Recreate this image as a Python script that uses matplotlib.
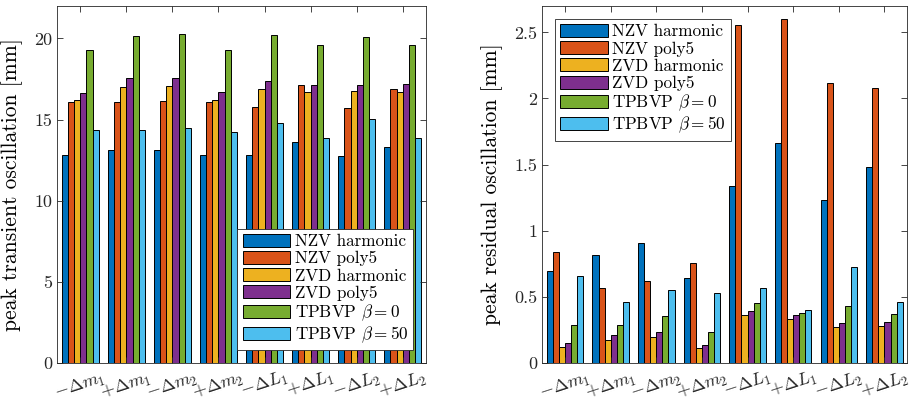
import numpy as np
import matplotlib
matplotlib.use("Agg")
import matplotlib.pyplot as plt
from matplotlib.ticker import FuncFormatter

plt.rcParams["font.family"] = ["cmr10", "DejaVu Serif"]
plt.rcParams["mathtext.fontset"] = "cm"
plt.rcParams["axes.formatter.use_mathtext"] = True
plt.rcParams["axes.unicode_minus"] = False

cases = [r"$-\Delta m_1$", r"$+\Delta m_1$", r"$-\Delta m_2$", r"$+\Delta m_2$",
         r"$-\Delta L_1$", r"$+\Delta L_1$", r"$-\Delta L_2$", r"$+\Delta L_2$"]
methods = ["NZV harmonic", "NZV poly5", "ZVD harmonic", "ZVD poly5",
           r"TPBVP $\beta = 0$", r"TPBVP $\beta = 50$"]
colors = ["#0072BD", "#D95319", "#EDB120", "#7E2F8E", "#77AC30", "#4DBEEE"]

# peak transient oscillation [mm], one list per method
transient_nzv_harm = [12.80, 13.11, 13.15, 12.80, 12.80, 13.61, 12.72, 13.32]
transient_nzv_poly = [16.09, 16.09, 16.13, 16.05, 15.76, 17.14, 15.68, 16.90]
transient_zvd_harm = [16.21, 17.02, 17.08, 16.21, 16.91, 16.67, 16.75, 16.69]
transient_zvd_poly = [16.65, 17.53, 17.57, 16.69, 17.35, 17.10, 17.10, 17.16]
transient_tp_b0 = [19.31, 20.18, 20.28, 19.31, 20.20, 19.60, 20.07, 19.62]
transient_tp_b50 = [14.35, 14.37, 14.46, 14.25, 14.81, 13.86, 15.06, 13.84]

# peak residual oscillation [mm]
residual_nzv_harm = [0.694, 0.815, 0.906, 0.641, 1.334, 1.663, 1.230, 1.478]
residual_nzv_poly = [0.835, 0.565, 0.618, 0.757, 2.557, 2.600, 2.116, 2.076]
residual_zvd_harm = [0.119, 0.172, 0.195, 0.109, 0.362, 0.329, 0.268, 0.278]
residual_zvd_poly = [0.147, 0.208, 0.233, 0.137, 0.390, 0.359, 0.299, 0.309]
residual_tp_b0 = [0.284, 0.289, 0.352, 0.233, 0.451, 0.375, 0.428, 0.367]
residual_tp_b50 = [0.653, 0.456, 0.549, 0.529, 0.562, 0.400, 0.724, 0.461]

transient = [transient_nzv_harm, transient_nzv_poly, transient_zvd_harm,
             transient_zvd_poly, transient_tp_b0, transient_tp_b50]
residual = [residual_nzv_harm, residual_nzv_poly, residual_zvd_harm,
            residual_zvd_poly, residual_tp_b0, residual_tp_b50]

fig = plt.figure(figsize=(9.14, 4.04), dpi=100)
ax1 = fig.add_axes([0.0627, 0.1022, 0.4031, 0.8829])
ax2 = fig.add_axes([0.5933, 0.1022, 0.3993, 0.8829])

x = np.arange(1, len(cases) + 1)
n = len(methods)
w = 0.8 / n


def draw(ax, data, ylabel, ylim, yticks):
    for i, (vals, name, c) in enumerate(zip(data, methods, colors)):
        ax.bar(x - 0.4 + w * (i + 0.5), vals, width=w, color=c,
               edgecolor="black", linewidth=0.7, label=name)
    ax.set_xlim(0.5, 8.5)
    ax.set_ylim(*ylim)
    ax.set_yticks(yticks)
    ax.yaxis.set_major_formatter(FuncFormatter(lambda v, p: "%g" % v))
    ax.set_xticks(x)
    ax.set_xticklabels(cases, rotation=18, ha="center", fontsize=16)
    ax.tick_params(direction="in", top=True, right=True, length=4,
                   width=0.6, labelsize=13, colors="#262626")
    ax.tick_params(axis="x", pad=4)
    for s in ax.spines.values():
        s.set_linewidth(0.6)
        s.set_color("#262626")
    ax.set_ylabel(ylabel, fontsize=15.5, labelpad=8)


draw(ax1, transient, "peak transient oscillation [mm]", (0, 22), [0, 5, 10, 15, 20])
draw(ax2, residual, "peak residual oscillation [mm]", (0, 2.7),
     [0, 0.5, 1, 1.5, 2, 2.5])

leg_kw = dict(fontsize=12.3, fancybox=False, framealpha=1, edgecolor="#262626",
              borderaxespad=0, handlelength=2.8, handleheight=0.8,
              handletextpad=0.25, labelspacing=0.1, borderpad=0.3)
l1 = ax1.legend(loc="lower right", bbox_to_anchor=(0.966, 0.035), **leg_kw)
l2 = ax2.legend(loc="upper left", bbox_to_anchor=(0.035, 0.964), **leg_kw)
for lg in (l1, l2):
    lg.get_frame().set_linewidth(0.6)

fig.savefig("out.png", dpi=100)
plt.close(fig)
